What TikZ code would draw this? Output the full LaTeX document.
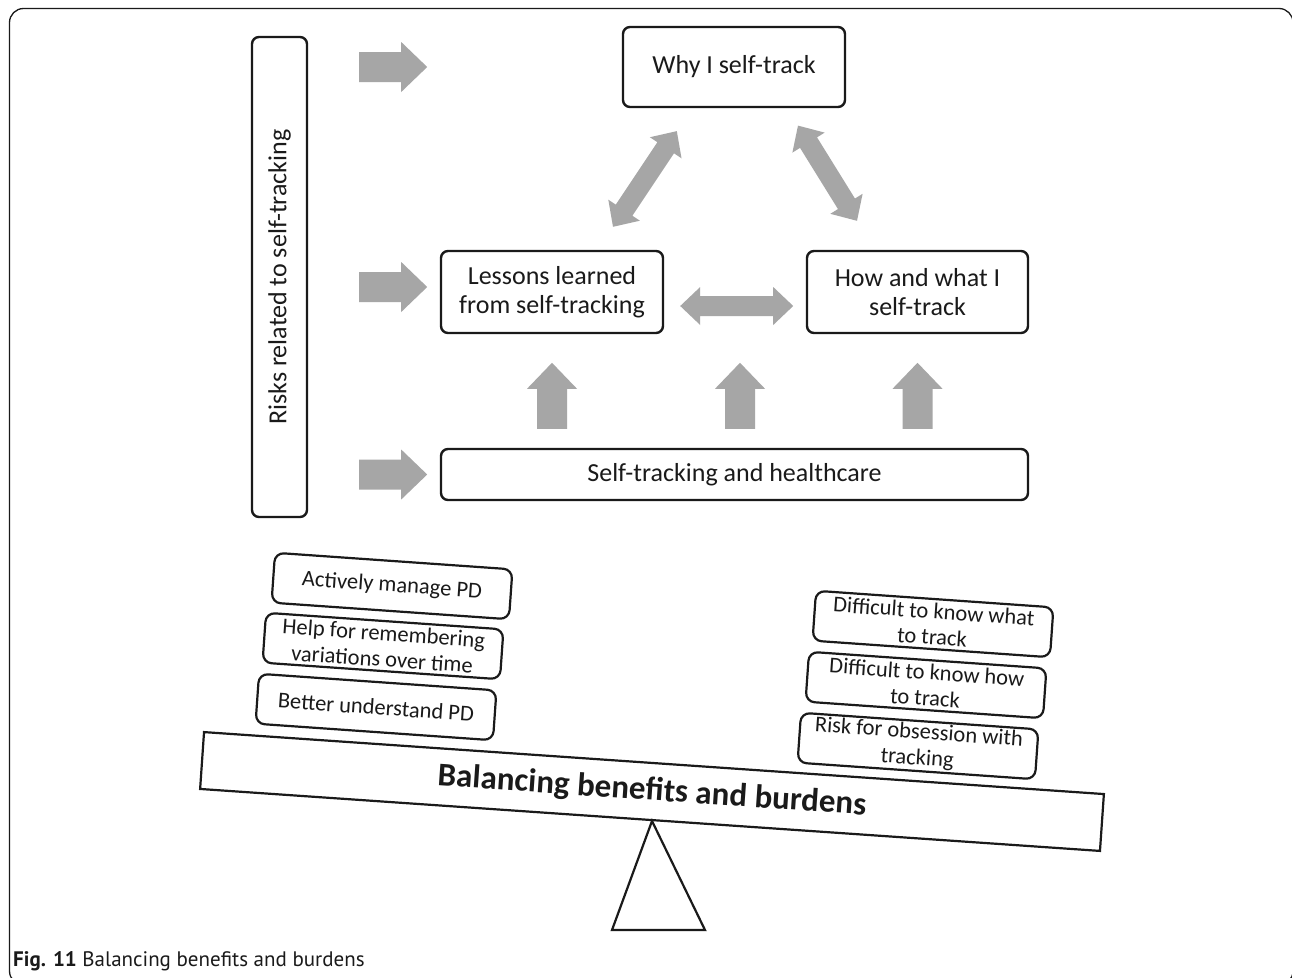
\documentclass[tikz,border=0pt]{standalone}
\usepackage{fontspec}
\setmainfont{Carlito}
\newfontfamily\capfont{PT Sans}
\usetikzlibrary{calc}
\definecolor{arrowgray}{HTML}{A6A6A6}
\definecolor{inkdark}{HTML}{1A1A1A}

\tikzset{
  % straight block arrow pointing along +x, #1 = overall length
  pics/flowarrow/.style={code={
    \fill[arrowgray] (0,-15) -- ({#1-26},-15) -- ({#1-26},-25) -- (#1,0)
      -- ({#1-26},25) -- ({#1-26},15) -- (0,15) -- cycle;}},
  % two-headed block arrow along +x, #1 = overall length
  pics/linkarrow/.style={code={
    \fill[arrowgray] (0,0) -- (20,-19) -- (20,-10) -- ({#1-20},-10) -- ({#1-20},-19)
      -- (#1,0) -- ({#1-20},19) -- ({#1-20},10) -- (20,10) -- (20,19) -- cycle;}},
}

\begin{document}
\begin{tikzpicture}[x=1pt,y=-1pt,
  box/.style={draw=inkdark, line width=2.4pt, rounded corners=7pt, align=center,
    text=inkdark, font=\fontsize{26}{29.5}\selectfont, inner sep=0pt},
  tilted/.style={draw=inkdark, line width=2.2pt, rounded corners=9pt, align=center,
    text=inkdark, font=\fontsize{22.5}{26}\selectfont, minimum width=238pt,
    minimum height=50pt, inner sep=0pt, rotate=-4},
  plank/.style={draw=inkdark, line width=2.2pt, minimum width=902pt, minimum height=57pt,
    inner sep=0pt, rotate=-3.94, text=inkdark, font=\fontsize{33}{36}\selectfont\bfseries},
  frame/.style={draw=inkdark, line width=1.3pt, rounded corners=14pt},
]
\useasboundingbox (0,0) rectangle (1292,977);
\clip (0,0) rectangle (1292,977);
\fill[white] (0,0) rectangle (1292,977);

% outer frame of the figure
\draw[frame] (9.5,8.5) rectangle (1293,985);

% boxes of the upper diagram
\node[box, rotate=90, minimum width=480pt, minimum height=55pt] (risks) at (279.5,277)
  {Risks related to self-tracking};
\node[box, minimum width=222pt, minimum height=80pt] (why) at (734,67) {Why I self-track};
\node[box, minimum width=222pt, minimum height=82pt] (lessons) at (552,292)
  {Lessons learned\\from self-tracking};
\node[box, minimum width=221pt, minimum height=82pt] (how) at (917.5,292)
  {How and what I\\self-track};
\node[box, minimum width=587pt, minimum height=51pt] (health) at (734.5,474.5)
  {Self-tracking and healthcare};

% arrows from the risks bar
\coordinate (r1) at ($(risks.south |- why.center)+(51,0)$);
\coordinate (r2) at ($(risks.south |- lessons.center)+(51,-5)$);
\coordinate (r3) at ($(risks.south |- health.center)+(51,0)$);
\pic at (r1) {flowarrow=68};
\pic at (r2) {flowarrow=68};
\pic at (r3) {flowarrow=68};

% arrows from healthcare up to the row above
\coordinate (u1) at ($(health.north -| lessons.center)+(0,-19)$);
\coordinate (u2) at ($(health.north)+(5.5,-19)$);
\coordinate (u3) at ($(health.north -| how.center)+(0,-19)$);
\pic[rotate=90] at (u1) {flowarrow=66};
\pic[rotate=90] at (u2) {flowarrow=66};
\pic[rotate=90] at (u3) {flowarrow=66};

% two-way links between the three boxes
\coordinate (h1) at ($(lessons.east)+(16,14)$);
\coordinate (d1) at ($(lessons.north)+(61,-23)$);
\coordinate (d2) at ($(how.north)+(-60.5,-29)$);
\pic at (h1) {linkarrow=113};
\pic[rotate=56.3] at (d1) {linkarrow=115};
\pic[rotate=121.8] at (d2) {linkarrow=112};

% benefits stacked on the left of the plank
\node[tilted] (b1) at (392,586) {Actively manage PD};
\node[tilted] (b2) at (383,646) {Help for remembering\\variations over time};
\node[tilted] (b3) at (376,707) {Better understand PD};

% burdens stacked on the right of the plank
\node[tilted] (c1) at (933,624) {Difficult to know what\\to track};
\node[tilted] (c2) at (926,685) {Difficult to know how\\to track};
\node[tilted] (c3) at (918,746) {Risk for obsession with\\tracking};

% the balance
\node[plank] (beam) at (652,791.5) {Balancing benefits and burdens};
\draw[draw=inkdark, line width=2.2pt, line join=miter] (652,821) -- (705,930) -- (612,930) -- cycle;

% caption
\node[anchor=base west, inner sep=0pt, font=\capfont\fontsize{21}{24}\selectfont, text=inkdark]
  (caption) at (13,966) {\textbf{Fig. 11} Balancing benefits and burdens};
\end{tikzpicture}
\end{document}
